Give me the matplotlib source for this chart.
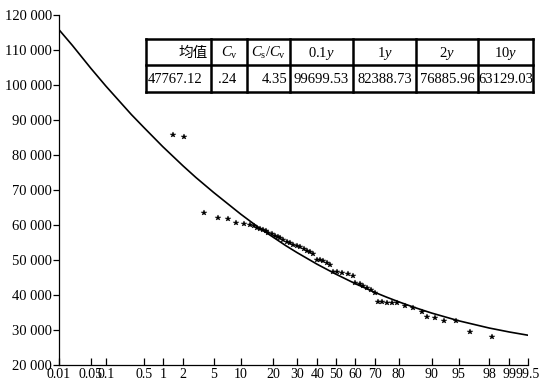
import numpy as np
import matplotlib
matplotlib.use("Agg")
import matplotlib.pyplot as plt
from matplotlib.lines import Line2D
import math

# ---------------- data ----------------
# fitted frequency curve (exceedance probability %, value)
curve_p = [0.01, 0.02, 0.05, 0.1, 0.2, 0.3, 0.5, 1, 2, 3, 5, 10, 15, 20, 25, 30,
           40, 50, 60, 70, 75, 80, 85, 90, 95, 98, 99, 99.5]
curve_v = [115800, 111330, 104744, 99700, 94655, 91560, 87777, 82389, 76886, 73561,
           69320, 63129, 59231, 56480, 54093, 52123, 48776, 45933, 43285, 40717,
           39412, 38046, 36555, 34847, 32635, 30571, 29425, 28507]

# empirical points
obs_p = [1.42, 2.07, 3.85, 5.61, 7.41, 8.98, 10.7, 12.4, 13.4, 14.4, 15.4, 16.4, 17.3,
         18.1, 19.4, 20.6, 21.6, 22.6, 24.0, 25.4, 26.8, 28.3, 29.9, 31.5, 33.1, 34.7,
         36.3, 37.9, 39.8, 41.4, 43.1, 44.9, 46.8, 48.4, 50.7, 53.1, 56.4, 59.0, 60.1,
         62.6, 64.3, 66.0, 68.0, 70.0, 71.4, 73.3, 75.2, 77.2, 79.2, 82.3, 84.9, 87.5,
         88.8, 90.8, 92.6, 94.6, 96.4, 98.2]
obs_v = [85710, 85050, 63340, 61910, 61710, 60480, 60290, 60000, 59600, 59230, 58900,
         58570, 58150, 57800, 57350, 56860, 56550, 56200, 55700, 55230, 54750, 54280,
         53950, 53630, 53100, 52570, 52150, 51710, 50000, 49900, 49800, 49200, 48570,
         46660, 46500, 46370, 46140, 45430, 43510, 43060, 42600, 42090, 41300, 40490,
         38090, 37950, 37800, 37700, 37630, 36860, 36370, 35230, 33800, 33510, 32660,
         32570, 29510, 28090]

x_ticks = [0.01, 0.05, 0.1, 0.5, 1, 2, 5, 10, 20, 30, 40, 50, 60, 70, 80, 90, 95, 98, 99, 99.5]
x_ticklabels = ['0.01', '0.05', '0.1', '0.5', '1', '2', '5', '10', '20', '30', '40', '50',
                '60', '70', '80', '90', '95', '98', '99', '99.5']
y_ticks = [20000, 30000, 40000, 50000, 60000, 70000, 80000, 90000, 100000, 110000, 120000]
y_ticklabels = ['20 000', '30 000', '40 000', '50 000', '60 000', '70 000', '80 000',
                '90 000', '100 000', '110 000', '120 000']

table_header = ['均值', r'$C_{\rm v}$', r'$C_{\rm s}/C_{\rm v}$', r'0.1$y$', r'1$y$', r'2$y$', r'10$y$']
table_values = ['47767.12', '.24', '4.35', '99699.53', '82388.73', '76885.96', '63129.03']

# ---------------- probability scale ----------------
_a = [-3.969683028665376e+01, 2.209460984245205e+02, -2.759285104469687e+02,
      1.383577518672690e+02, -3.066479806614716e+01, 2.506628277459239e+00]
_b = [-5.447609879822406e+01, 1.615858368580409e+02, -1.556989798598866e+02,
      6.680131188771972e+01, -1.328068155288572e+01]
_c = [-7.784894002430293e-03, -3.223964580411365e-01, -2.400758277161838e+00,
      -2.549732539343734e+00, 4.374664141464968e+00, 2.938163982698783e+00]
_d = [7.784695709041462e-03, 3.224671290700398e-01, 2.445134137142996e+00,
      3.754408661907416e+00]


def norm_ppf(p):
    p = np.asarray(p, float)
    plow = 0.02425
    q = p - 0.5
    r = q * q
    central = (((((_a[0]*r+_a[1])*r+_a[2])*r+_a[3])*r+_a[4])*r+_a[5])*q / \
              (((((_b[0]*r+_b[1])*r+_b[2])*r+_b[3])*r+_b[4])*r+1)
    ql = np.sqrt(-2*np.log(np.clip(p, 1e-300, 1)))
    lower = (((((_c[0]*ql+_c[1])*ql+_c[2])*ql+_c[3])*ql+_c[4])*ql+_c[5]) / \
            ((((_d[0]*ql+_d[1])*ql+_d[2])*ql+_d[3])*ql+1)
    qu = np.sqrt(-2*np.log(np.clip(1-p, 1e-300, 1)))
    upper = -(((((_c[0]*qu+_c[1])*qu+_c[2])*qu+_c[3])*qu+_c[4])*qu+_c[5]) / \
            ((((_d[0]*qu+_d[1])*qu+_d[2])*qu+_d[3])*qu+1)
    return np.where(p < plow, lower, np.where(p > 1-plow, upper, central))


_erf = np.vectorize(math.erf)


def forward(P):
    p = np.clip(np.asarray(P, float) / 100.0, 1e-9, 1 - 1e-9)
    return norm_ppf(p)


def inverse(z):
    return 100.0 * 0.5 * (1 + _erf(np.asarray(z, float) / math.sqrt(2)))


# ---------------- figure ----------------
plt.rcParams['font.family'] = ['Liberation Serif', 'Noto Sans CJK SC']
plt.rcParams['mathtext.fontset'] = 'custom'
plt.rcParams['mathtext.rm'] = 'Liberation Serif'
plt.rcParams['mathtext.it'] = 'Liberation Serif:italic'

W, H = 546, 383
fig = plt.figure(figsize=(W/100, H/100), dpi=100)
ax = fig.add_axes([59/W, 18/H, 469/W, 350/H])
ax.set_xscale('function', functions=(forward, inverse))
ax.set_xlim(0.01, 99.5)
ax.set_ylim(20000, 120000)

ax.plot(curve_p, curve_v, color='black', lw=1.2)
ax.plot(obs_p, obs_v, linestyle='none', marker='*', color='black', markersize=4,
        markeredgewidth=0.3)

ax.set_xticks(x_ticks)
ax.set_xticklabels(x_ticklabels)
ax.set_xticks([], minor=True)
ax.set_yticks(y_ticks)
ax.set_yticklabels(y_ticklabels)
ax.set_yticks([], minor=True)
ax.tick_params(axis='x', direction='in', length=5, width=0.9, pad=2, labelsize=10)
ax.tick_params(axis='y', direction='out', length=4, width=0.9, pad=1, labelsize=10.5)
for s in ['top', 'right']:
    ax.spines[s].set_visible(False)
for s in ['left', 'bottom']:
    ax.spines[s].set_linewidth(0.9)

# ---------------- table ----------------
cols = [146, 211, 247, 290, 353, 416, 478, 533]
rows = [39, 65, 92]


def fx(px):
    return px / W


def fy(py):
    return 1 - py / H


for c in cols:
    fig.add_artist(Line2D([fx(c), fx(c)], [fy(rows[0]), fy(rows[-1])],
                          transform=fig.transFigure, color='black', lw=1.8))
for r in rows:
    fig.add_artist(Line2D([fx(cols[0]), fx(cols[-1])], [fy(r), fy(r)],
                          transform=fig.transFigure, color='black', lw=1.8))

head_align = ['right', 'center', 'center', 'center', 'center', 'center', 'center']
val_align = ['left', 'left', 'right', 'center', 'center', 'center', 'center']
for i in range(len(cols) - 1):
    l, rgt = cols[i], cols[i + 1]
    for text, align, (t, b) in [(table_header[i], head_align[i], (rows[0], rows[1])),
                                (table_values[i], val_align[i], (rows[1], rows[2]))]:
        if align == 'left':
            xp = l + 2 if i == 0 else l + 7
        elif align == 'right':
            xp = rgt - 3
        else:
            xp = (l + rgt) / 2
        fig.text(fx(xp), fy((t + b) / 2 + 1), text, ha=align, va='center', fontsize=10.5)

fig.savefig('out.png', dpi=100, facecolor='white')
